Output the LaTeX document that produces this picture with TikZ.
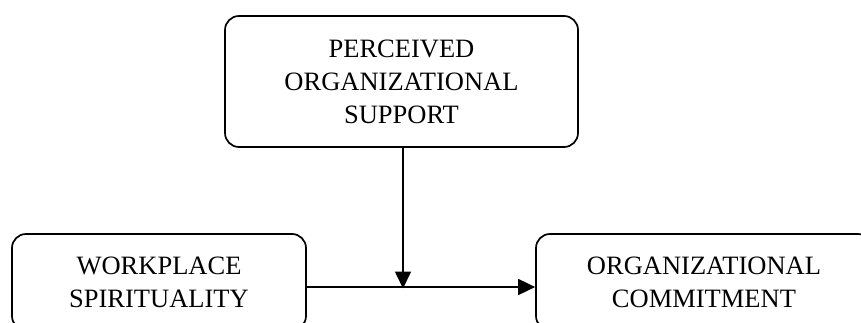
\documentclass[tikz,border=0pt]{standalone}
\usepackage{fontspec}
\setmainfont{Liberation Serif}
\usepackage{tikz}
\usetikzlibrary{arrows.meta}

\begin{document}
\begin{tikzpicture}[x=1pt,y=-1pt,
  varbox/.style={draw,line width=1.7pt,rounded corners=14pt,align=center,
    font=\fontsize{26.5}{33}\selectfont},
  link/.style={line width=1.7pt,-{Triangle[length=17pt,width=16pt]}}]

\useasboundingbox (0,0) rectangle (861,323);

\node[varbox,minimum width=353pt,minimum height=131pt] (pos) at (401.5,81.5)
  {PERCEIVED\\ORGANIZATIONAL\\SUPPORT};
\node[varbox,minimum width=294pt,minimum height=96pt] (ws) at (159,282)
  {WORKPLACE\\SPIRITUALITY};
\node[varbox,minimum width=336pt,minimum height=96pt] (oc) at (704,282)
  {ORGANIZATIONAL\\COMMITMENT};

\coordinate (mid) at (403,287);

\draw[link] (ws.east |- mid) -- (oc.west |- mid);
\draw[link] (pos.south -| mid) -- ([yshift=-1.5pt]mid);

\end{tikzpicture}
\end{document}
